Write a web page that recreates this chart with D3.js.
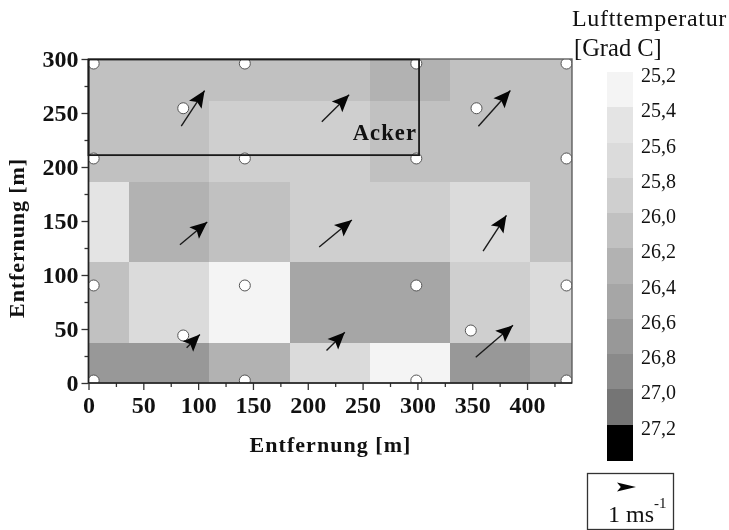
<!DOCTYPE html>
<html>
<head>
<meta charset="utf-8">
<script src="https://cdn.jsdelivr.net/npm/d3@7"></script>
<style>
	html, body { margin: 0; padding: 0; background: #fff; }
	svg { display: block; filter: blur(0.5px); }
	text { font-family: "Liberation Serif", serif; fill: #111; }
	.axis text { font-size: 24px; font-weight: bold; }
	.axis path, .axis line { stroke: #333; stroke-width: 1.3; }
	.axisTitle { font-size: 22px; font-weight: bold; letter-spacing: 1.05px; }
	.legendLabel { font-size: 20px; }
</style>
</head>
<body>
<div id="chart"></div>
<script>
const xEdges = [0, 37, 110, 184, 257, 330, 403, 441];
const yEdges = [0, 37, 112, 186, 261, 300];

// band label of each cell, first row is the bottom one
const tempRow0 = [26.6, 26.6, 26.2, 25.6, 25.2, 26.6, 26.4];
const tempRow1 = [26.0, 25.6, 25.2, 26.4, 26.4, 25.8, 25.6];
const tempRow2 = [25.4, 26.2, 26.0, 25.8, 25.8, 25.6, 26.0];
const tempRow3 = [26.0, 26.0, 25.8, 25.8, 26.0, 26.0, 26.0];
const tempRow4 = [26.0, 26.0, 26.0, 26.0, 26.2, 26.0, 26.0];
const tempRows = [tempRow0, tempRow1, tempRow2, tempRow3, tempRow4];

const bandLabels = [25.2, 25.4, 25.6, 25.8, 26.0, 26.2, 26.4, 26.6, 26.8, 27.0, 27.2];
const bandColors = ['#f4f4f4', '#e4e4e4', '#dbdbdb', '#cfcfcf', '#c1c1c1', '#b2b2b2', '#a6a6a6', '#989898', '#8a8a8a', '#757575', '#000000'];

const stationX = [4.7, 142.6, 299, 436, 4.7, 142.6, 299, 436, 86.4, 353.9, 4.7, 142.6, 299, 436, 86.4, 348.7, 4.7, 142.6, 299, 436];
const stationY = [295.8, 295.8, 295.8, 295.8, 207.9, 207.9, 207.9, 207.9, 254.4, 254.4, 90.3, 90.3, 90.3, 90.3, 44, 48.6, 2.3, 2.3, 2.3, 2.3];

const windX = [84.6, 212.8, 355.6, 83.4, 210.4, 359.9, 89.5, 217.1, 353.2];
const windY = [237.8, 241.8, 237.8, 128, 126, 122, 32.6, 30, 23.9];
const windU = [21.3, 24.9, 29.2, 24.9, 29.8, 21.3, 12.1, 16.7, 34];
const windV = [33, 25, 33, 21, 25, 33.3, 12.3, 17, 29.5];

const ackerX = [0, 301.5];
const ackerY = [211, 300];

const xMajor = [0, 50, 100, 150, 200, 250, 300, 350, 400];
const xMinor = [25, 75, 125, 175, 225, 275, 325, 375, 425];
const yMajor = [0, 50, 100, 150, 200, 250, 300];
const yMinor = [25, 75, 125, 175, 225, 275];

const margin = { top: 59, right: 157, bottom: 147, left: 88.5 };
const w = 729;
const h = 530;

const svg = d3.select('#chart').append('svg').attr('width', w).attr('height', h);

const x = d3.scaleLinear().domain([0, 441]).range([margin.left, w - margin.right]);
const y = d3.scaleLinear().domain([0, 300]).range([h - margin.bottom, margin.top]);
const color = d3.scaleOrdinal().domain(bandLabels).range(bandColors);

svg.append('clipPath').attr('id', 'plotClip').append('rect')
	.attr('x', x(0)).attr('y', y(300))
	.attr('width', x(441) - x(0)).attr('height', y(0) - y(300));

//heat cells
const plot = svg.append('g').attr('clip-path', 'url(#plotClip)');

tempRows.forEach((row, r) => {
	plot.append('g').selectAll('rect').data(row).join('rect')
		.attr('x', (d, i) => x(xEdges[i]))
		.attr('y', y(yEdges[r + 1]))
		.attr('width', (d, i) => x(xEdges[i + 1]) - x(xEdges[i]))
		.attr('height', y(yEdges[r]) - y(yEdges[r + 1]))
		.attr('shape-rendering', 'crispEdges')
		.attr('fill', d => color(d));
});

//stations
plot.append('g').selectAll('circle').data(stationX).join('circle')
	.attr('cx', d => x(d))
	.attr('cy', (d, i) => y(stationY[i]))
	.attr('r', 5.5)
	.attr('fill', '#fff')
	.attr('stroke', '#555')
	.attr('stroke-width', 1);

function arrowPath(x0, y0, x1, y1, headLen, headWidth){
	const dx = x1 - x0, dy = y1 - y0;
	const len = Math.sqrt(dx * dx + dy * dy);
	const ux = dx / len, uy = dy / len;
	const back = x1 - ux * headLen, backY = y1 - uy * headLen;
	const notchX = x1 - ux * headLen * 0.8, notchY = y1 - uy * headLen * 0.8;
	const px = -uy * headWidth / 2, py = ux * headWidth / 2;
	return `M${x1},${y1}L${back + px},${backY + py}L${notchX},${notchY}L${back - px},${backY - py}Z`;
}

//wind arrows
const arrows = svg.append('g').selectAll('g').data(windX).join('g');

arrows.append('line')
	.attr('x1', d => x(d))
	.attr('y1', (d, i) => y(windY[i]))
	.attr('x2', (d, i) => x(d + windU[i]))
	.attr('y2', (d, i) => y(windY[i] + windV[i]))
	.attr('stroke', '#1a1a1a')
	.attr('stroke-width', 1.4);

arrows.append('path')
	.attr('d', (d, i) => arrowPath(x(d), y(windY[i]), x(d + windU[i]), y(windY[i] + windV[i]), 17, 15))
	.attr('fill', '#050505');

//frame
svg.append('rect')
	.attr('x', x(0)).attr('y', y(300))
	.attr('width', x(441) - x(0)).attr('height', y(0) - y(300))
	.attr('fill', 'none')
	.attr('stroke', '#555')
	.attr('stroke-width', 1.3);

//axes
const xAxis = svg.append('g').attr('class', 'axis')
	.attr('transform', `translate(0,${y(0)})`)
	.call(d3.axisBottom(x).tickValues(xMajor).tickSize(7).tickPadding(6).tickFormat(d3.format('d')));
xAxis.select('.domain').remove();

svg.append('g').attr('class', 'axis')
	.attr('transform', `translate(0,${y(0)})`)
	.call(d3.axisBottom(x).tickValues(xMinor).tickSize(4).tickFormat(''))
	.select('.domain').remove();

const yAxis = svg.append('g').attr('class', 'axis')
	.attr('transform', `translate(${x(0)},0)`)
	.call(d3.axisLeft(y).tickValues(yMajor).tickSize(7).tickPadding(3).tickFormat(d3.format('d')));
yAxis.select('.domain').remove();

svg.append('g').attr('class', 'axis')
	.attr('transform', `translate(${x(0)},0)`)
	.call(d3.axisLeft(y).tickValues(yMinor).tickSize(4).tickFormat(''))
	.select('.domain').remove();

svg.append('line')
	.attr('x1', x(0)).attr('x2', x(0)).attr('y1', y(0)).attr('y2', y(300))
	.attr('stroke', '#222').attr('stroke-width', 1.6);
svg.append('line')
	.attr('x1', x(0)).attr('x2', x(441)).attr('y1', y(0)).attr('y2', y(0))
	.attr('stroke', '#222').attr('stroke-width', 1.6);

//field outline
svg.append('rect')
	.attr('x', x(ackerX[0]))
	.attr('y', y(ackerY[1]) + 0.5)
	.attr('width', x(ackerX[1]) - x(ackerX[0]))
	.attr('height', y(ackerY[0]) - y(ackerY[1]) - 0.5)
	.attr('fill', 'none')
	.attr('stroke', '#1a1a1a')
	.attr('stroke-width', 1.8);

svg.append('text')
	.attr('x', 417).attr('y', 140)
	.attr('text-anchor', 'end')
	.style('font-size', '22.5px')
	.style('font-weight', 'bold')
	.style('letter-spacing', '1.1px')
	.text('Acker');

//axis titles
svg.append('text').attr('class', 'axisTitle')
	.attr('x', 330.5).attr('y', 452)
	.attr('text-anchor', 'middle')
	.text('Entfernung [m]');

svg.append('text').attr('class', 'axisTitle')
	.style('letter-spacing', '0.9px')
	.attr('transform', 'translate(24,238) rotate(-90)')
	.attr('text-anchor', 'middle')
	.text('Entfernung [m]');

//colour legend
const legendY = d3.scaleBand().domain(bandLabels).range([72, 460]);
const legendNum = d3.format('.1f');

svg.append('g').selectAll('rect').data(bandLabels).join('rect')
	.attr('x', 607)
	.attr('y', d => legendY(d))
	.attr('width', 25.5)
	.attr('height', legendY.bandwidth() + 0.5)
	.attr('shape-rendering', 'crispEdges')
	.attr('fill', d => color(d));

svg.append('g').selectAll('text').data(bandLabels).join('text')
	.attr('class', 'legendLabel')
	.attr('x', 641)
	.attr('y', d => legendY(d) + 10)
	.text(d => legendNum(d).replace('.', ','));

svg.append('text')
	.attr('x', 572).attr('y', 26)
	.style('font-size', '24px')
	.style('letter-spacing', '0.7px')
	.text('Lufttemperatur');

svg.append('text')
	.attr('x', 574).attr('y', 56)
	.style('font-size', '24.5px')
	.text('[Grad C]');

//scale box
svg.append('rect')
	.attr('x', 587.5).attr('y', 473.5)
	.attr('width', 86).attr('height', 56)
	.attr('fill', 'none')
	.attr('stroke', '#333')
	.attr('stroke-width', 1.3);

svg.append('path')
	.attr('d', arrowPath(617, 487, 636, 487, 19, 9))
	.attr('fill', '#050505');

const unit = svg.append('text').attr('x', 608).attr('y', 522).style('font-size', '24px');
unit.append('tspan').text('1 ms');
unit.append('tspan').attr('dy', -14).style('font-size', '15px').text('-1');
</script>
</body>
</html>
